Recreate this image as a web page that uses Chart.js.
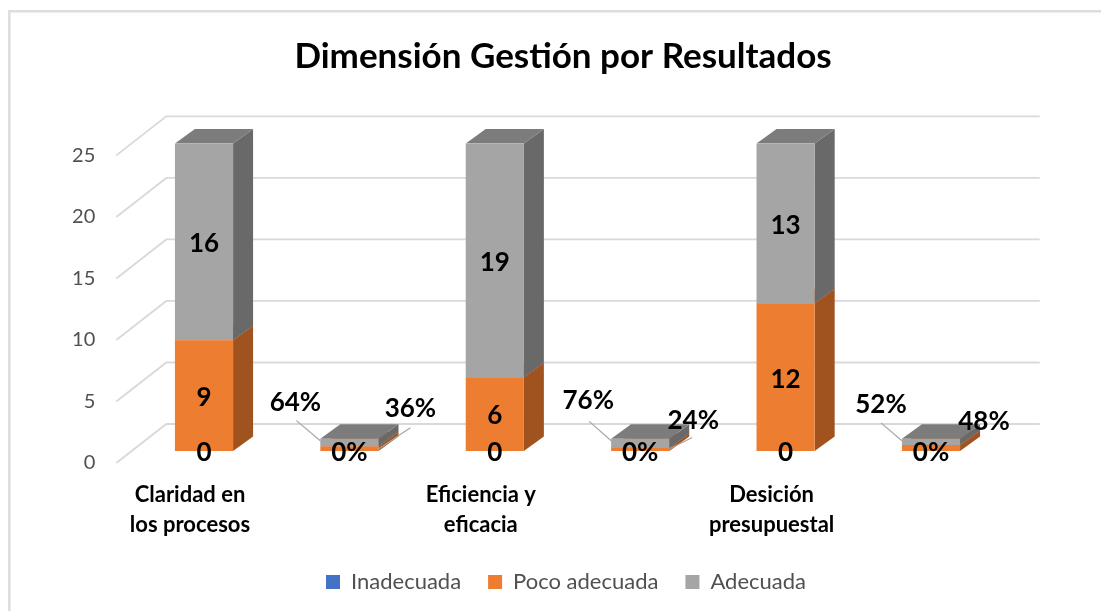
<!DOCTYPE html>
<html><head><meta charset="utf-8">
<style>html,body{margin:0;padding:0;background:#fff}#w{width:1101px;height:611px;position:relative}</style>
<script src="https://cdn.jsdelivr.net/npm/chart.js@4/dist/chart.umd.min.js"></script>
</head><body><div id="w"><canvas id="c" width="1101" height="611"></canvas></div>
<script>
const chartTitle = "Dimensión Gestión por Resultados";
const categories = [["Claridad en","los procesos"],"",["Eficiencia y","eficacia"],"",["Desición","presupuestal"],""];
const seriesNames = ["Inadecuada","Poco adecuada","Adecuada"];
const inadecuada = [0,0,0,0,0,0];
const pocoAdecuada = [9,0.36,6,0.24,12,0.48];
const adecuada = [16,0.64,19,0.76,13,0.52];

const FONT = "Lato, Carlito, Calibri, sans-serif";
const colors = ["#4472C4","#ED7D31","#A5A5A5"];
const sideColors = ["#2F5189","#A0531F","#696969"];
const topColors = ["#3A62A8","#C96A29","#7C7C7C"];
const DX = 20, DY = -14.5;
// label displacement from segment centre, for the percentage bars [dx,dy]
const pctOffsets = {
  1:{1:[61,-42],2:[-54,-42]},
  3:{1:[53,-31],2:[-52,-45]},
  5:{1:[53,-28],2:[-50,-39]}
};
// leader ends relative to the label centre
const leaders = {
  1:{1:[0,21],2:[1,20]},
  3:{1:[-1,19],2:[1,23]},
  5:{2:[0,20]}
};

function poly(ctx,pts,fill){ctx.beginPath();pts.forEach((p,i)=>i?ctx.lineTo(p[0],p[1]):ctx.moveTo(p[0],p[1]));ctx.closePath();ctx.fillStyle=fill;ctx.fill();}

const scene = {
  id:"scene",
  afterLayout(chart){
    chart.scales.y.left = 20;
    chart.legend.left += 3; chart.legend.right += 3;
  },
  beforeDraw(chart){
    const ctx=chart.ctx;
    ctx.save();
    ctx.fillStyle="#fff";ctx.fillRect(0,0,chart.width,chart.height);
    ctx.strokeStyle="#DDDDDD";ctx.lineWidth=2.5;
    ctx.beginPath();ctx.moveTo(9.3,chart.height);ctx.lineTo(9.3,11.2);ctx.lineTo(chart.width,11.2);ctx.stroke();
    ctx.restore();
  },
  beforeDatasetsDraw(chart){
    const ctx=chart.ctx,y=chart.scales.y,a=chart.chartArea;
    ctx.save();
    ctx.strokeStyle="#D9D9D9";ctx.lineWidth=1.8;
    y.ticks.forEach(t=>{
      const p=y.getPixelForValue(t.value);
      ctx.beginPath();ctx.moveTo(a.left-15,p+12);ctx.lineTo(a.left+35,p-27);ctx.lineTo(a.right+36,p-27);ctx.stroke();
    });
    chart.data.datasets.forEach((ds,di)=>{
      chart.getDatasetMeta(di).data.forEach((el,i)=>{
        if(!ds.data[i]) return;
        const l=el.x-el.width/2,r=el.x+el.width/2,t=el.y,b=el.base;
        poly(ctx,[[r,t],[r+DX,t+DY],[r+DX,b+DY],[r,b]],sideColors[di]);
        poly(ctx,[[l,t],[l+DX,t+DY],[r+DX,t+DY],[r,t]],topColors[di]);
      });
    });
    ctx.restore();
  },
  afterDatasetsDraw(chart){
    const ctx=chart.ctx;
    ctx.save();
    ctx.textAlign="center";ctx.textBaseline="middle";
    ctx.font="bold 26px "+FONT;
    const items=[];
    chart.data.datasets.forEach((ds,di)=>{
      chart.getDatasetMeta(di).data.forEach((el,i)=>{
        const v=ds.data[i],pct=i%2===1;
        const text=pct?Math.round(v*100)+"%":String(v);
        let x=el.x,y=(el.y+el.base)/2;
        const off=pct&&pctOffsets[i]&&pctOffsets[i][di];
        if(off){x+=off[0];y+=off[1];}
        items.push([text,x,y+2]);
        const ld=pct&&leaders[i]&&leaders[i][di];
        if(ld){
          const ex=di===2?el.x-el.width/2:el.x+el.width/2;
          const ey=di===2?el.y+2:el.base-2;
          ctx.strokeStyle="#A6A6A6";ctx.lineWidth=1.2;
          ctx.beginPath();ctx.moveTo(x+ld[0],y+ld[1]);ctx.lineTo(ex,ey);ctx.stroke();
        }
      });
    });
    ctx.fillStyle="#000";
    items.forEach(it=>ctx.fillText(it[0],it[1],it[2]));
    ctx.restore();
  }
};

new Chart(document.getElementById("c"),{
  type:"bar",
  data:{labels:categories,datasets:[
    {label:seriesNames[0],data:inadecuada,backgroundColor:colors[0]},
    {label:seriesNames[1],data:pocoAdecuada,backgroundColor:colors[1]},
    {label:seriesNames[2],data:adecuada,backgroundColor:colors[2]}
  ]},
  options:{
    responsive:false,animation:false,
    layout:{padding:{left:122.3,right:97.3,top:36,bottom:8}},
    datasets:{bar:{categoryPercentage:1,barPercentage:0.4,borderWidth:0}},
    scales:{
      x:{stacked:true,grid:{display:false},border:{display:false},
        afterFit(s){s.height=93;},
        ticks:{autoSkip:false,maxRotation:0,minRotation:0,padding:21,labelOffset:-14,color:"#000",font:{family:FONT,size:22,weight:"bold",lineHeight:1.36}}},
      y:{stacked:true,min:0,max:25,grid:{display:false,drawTicks:false},border:{display:false},
        afterFit(s){s.width=9;},
        ticks:{stepSize:5,padding:36,labelOffset:12,color:"#505050",font:{family:FONT,size:20}}}
    },
    plugins:{
      tooltip:{enabled:false},
      title:{display:true,text:chartTitle,color:"#000",font:{family:FONT,size:35,weight:"bold",lineHeight:1.2},padding:{top:0,bottom:65.4}},
      legend:{position:"bottom",maxHeight:60,labels:{boxWidth:14,boxHeight:14,padding:27,color:"#505050",font:{family:FONT,size:22}}}
    }
  },
  plugins:[scene]
});
</script></body></html>
